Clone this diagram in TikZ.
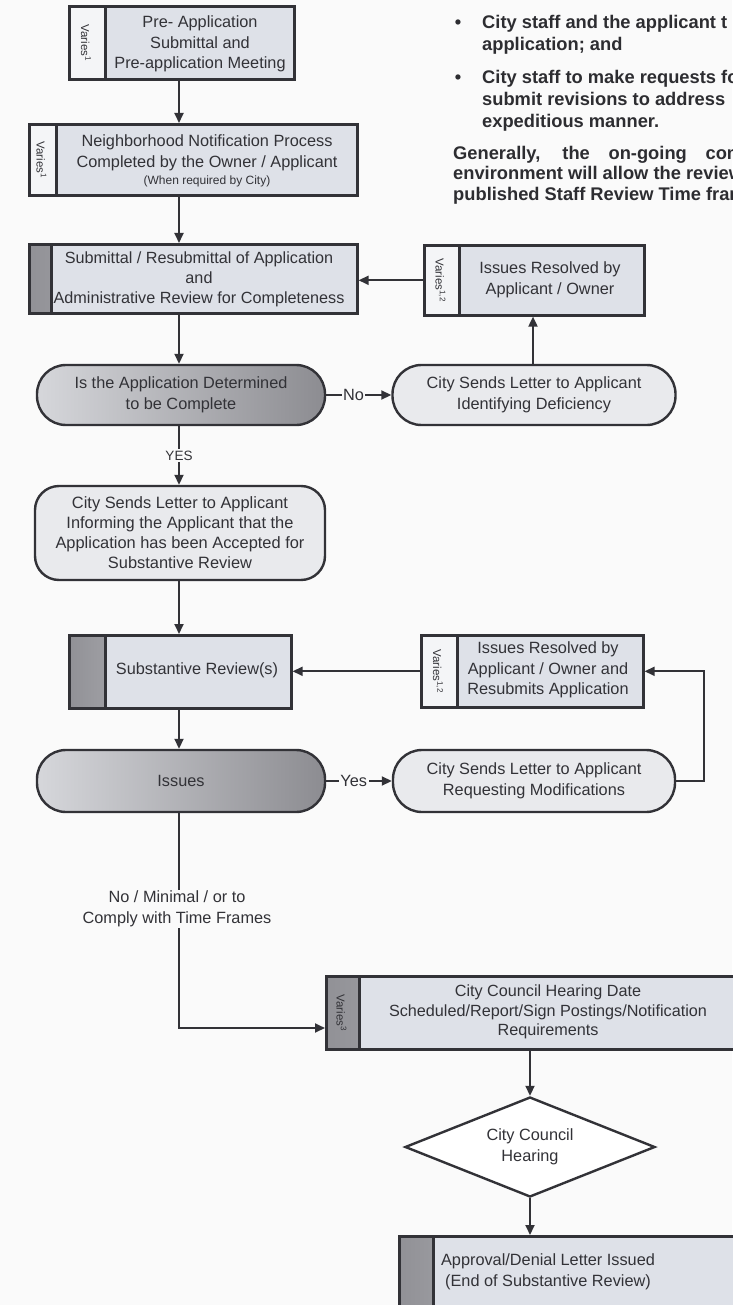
\documentclass[tikz,border=0pt]{standalone}
\usepackage{fontspec}
\setmainfont{Liberation Sans}
\usetikzlibrary{arrows.meta,shapes.geometric,calc}
\definecolor{bg}{RGB}{250,250,250}
\definecolor{ink}{RGB}{50,50,55}
\definecolor{boxfill}{RGB}{222,225,232}
\definecolor{lfill}{RGB}{233,234,237}
\definecolor{dlight}{RGB}{214,215,219}
\definecolor{ddark}{RGB}{140,140,145}
\definecolor{stripdark}{RGB}{145,145,150}
\definecolor{striplight}{RGB}{222,223,228}
\definecolor{stripwhite}{RGB}{244,245,247}
\newcommand\mainfs{\fontsize{16.3}{20.5}\selectfont}
\begin{document}
\begin{tikzpicture}[x=1pt,y=-1pt,
  box/.style={draw=ink, line width=2.6pt, fill=boxfill, rectangle, inner sep=0pt, anchor=north west},
  stripw/.style={path picture={\fill[stripwhite] (path picture bounding box.north west) rectangle ([xshift=#1]path picture bounding box.south west);
      \draw[ink,line width=2.4pt] ([xshift=#1]path picture bounding box.north west) -- ([xshift=#1]path picture bounding box.south west);}},
  stripg/.style={path picture={\shade[left color=stripdark,right color=striplight] (path picture bounding box.north west) rectangle ([xshift=#1]path picture bounding box.south west);
      \draw[ink,line width=2.4pt] ([xshift=#1]path picture bounding box.north west) -- ([xshift=#1]path picture bounding box.south west);}},
  pill/.style={draw=ink, line width=2.4pt, rectangle, rounded corners=29pt, inner sep=0pt, align=center, font=\mainfs, text=ink},
  txt/.style={text=ink, align=center, font=\mainfs, inner sep=0pt},
  vtxt/.style={text=ink, rotate=-90, font=\fontsize{11.5}{12}\selectfont, inner sep=0pt},
  lbl/.style={fill=bg, text=ink, font=\mainfs, inner sep=1.5pt, align=center},
  arr/.style={draw=ink, line width=1.8pt, -{Triangle[length=10pt,width=9pt]}},
  bul/.style={text=ink!90!black, font=\fontsize{18.3}{21.5}\selectfont\bfseries, inner sep=0pt, anchor=base west}
]
\useasboundingbox (0,0) rectangle (732,1305);
\fill[bg] (0,0) rectangle (732,1305);
\coordinate (col) at (179,0);
\coordinate (c2) at (533,0);
\coordinate (c3) at (530,0);
\coordinate (r1) at (704,0);

% top right text
\node[bul, anchor=base] (bu1) at (458,28.5) {•};
\node[bul] (t1) at (482,28.5) {City staff and the applicant t};
\node[bul] (t2) at (482,50.5) {application; and};
\node[bul, anchor=base] (bu2) at (458,83.5) {•};
\node[bul] (t3) at (482,83.5) {City staff to make requests fo};
\node[bul] (t4) at (482,105.5) {submit revisions to address};
\node[bul] (t5) at (482,127.5) {expeditious manner.};
\node[bul] (t6) at (453,159.5) {\makebox[290pt][s]{Generally, the on-going com}};
\node[bul] (t7) at (453,180) {environment will allow the review};
\node[bul] (t8) at (453,201) {published Staff Review Time fram};

% box 1
\node[box, stripw=36pt, minimum width=225pt, minimum height=73pt] (b1) at (68,5) {};
\node[vtxt] (b1v) at ($(b1.west)+(18,0)$) {Varies\textsuperscript{1}};
\node[txt] (b1t) at (200,44) {Pre- Application\\Submittal and\\Pre-application Meeting};

% box 2
\node[box, stripw=27pt, minimum width=328pt, minimum height=71pt] (b2) at (28,123) {};
\node[vtxt] (b2v) at ($(b2.west)+(13.5,0)$) {Varies\textsuperscript{1}};
\node[txt] (b2t) at (207,161) {Neighborhood Notification Process\\Completed by the Owner / Applicant\\[-3pt]{\fontsize{12}{14}\selectfont (When required by City)}};

% box 3
\node[box, stripg=22pt, minimum width=328pt, minimum height=69pt] (b3) at (28,243) {};
\node[txt, font=\fontsize{16.2}{20}\selectfont] (b3t) at (199,279) {Submittal / Resubmittal of Application\\and\\Administrative Review for Completeness};

% issues resolved 1
\node[box, stripw=35pt, minimum width=220pt, minimum height=70pt] (ir1) at (423,244) {};
\node[vtxt] (ir1v) at ($(ir1.west)+(17.5,0)$) {Varies\textsuperscript{1,2}};
\node[txt] (ir1t) at (550,280) {Issues Resolved by\\Applicant / Owner};

% decision 1
\node[pill, left color=dlight, right color=ddark, minimum width=288pt, minimum height=60pt] (d1) at (181,395) {Is the Application Determined\\to be Complete};
\node[pill, fill=lfill, minimum width=283pt, minimum height=60pt] (l1) at (534,395) {City Sends Letter to Applicant\\Identifying Deficiency};

% letter 2
\node[pill, rounded corners=24pt, fill=lfill, minimum width=290pt, minimum height=94pt, font=\fontsize{16.4}{20}\selectfont] (l2) at (180,533) {City Sends Letter to Applicant\\Informing the Applicant that the\\Application has been Accepted for\\Substantive Review};

% substantive review
\node[box, stripg=36pt, minimum width=222pt, minimum height=73pt] (sr) at (68,634) {};
\node[txt] (srt) at (197,670.5) {Substantive Review(s)};

% issues resolved 2
\node[box, stripw=36pt, minimum width=222pt, minimum height=72pt] (ir2) at (420,634) {};
\node[vtxt] (ir2v) at ($(ir2.west)+(18,0)$) {Varies\textsuperscript{1,2}};
\node[txt] (ir2t) at (548,670) {Issues Resolved by\\Applicant / Owner and\\Resubmits Application};

% decision 2
\node[pill, left color=dlight, right color=ddark, minimum width=288pt, minimum height=62pt] (d2) at (181,781) {Issues};
\node[pill, fill=lfill, minimum width=282pt, minimum height=62pt] (l3) at (534,781) {City Sends Letter to Applicant\\Requesting Modifications};

% city council box
\node[box, stripg=33pt, minimum width=415pt, minimum height=73pt] (cc) at (325,975) {};
\node[vtxt] (ccv) at ($(cc.west)+(16.5,0)$) {Varies\textsuperscript{3}};
\node[txt, font=\fontsize{16.2}{19.5}\selectfont] (cct) at (548,1012) {City Council Hearing Date\\Scheduled/Report/Sign Postings/Notification\\Requirements};

% diamond
\node[diamond, draw=ink, line width=2.4pt, fill=white, minimum width=250pt, minimum height=100pt, aspect=2.5, inner sep=0pt, align=center, font=\mainfs, text=ink] (dm) at (530,1147) {City Council\\Hearing};

% approval box
\node[box, stripg=34pt, minimum width=342pt, minimum height=90pt] (ad) at (398,1235) {};
\node[txt] (adt) at (548,1272) {Approval/Denial Letter Issued\\(End of Substantive Review)};

% connectors
\draw[arr] (b1.south -| col) -- (b2.north -| col);
\draw[arr] (b2.south -| col) -- (b3.north -| col);
\draw[arr] (ir1.west) -- (b3.east |- ir1.west);
\draw[arr] (b3.south -| col) -- (d1.north -| col);
\draw[arr] (d1.east) -- (l1.west) node[lbl, pos=0.42] (nolbl) {No};
\draw[arr] (l1.north -| c2) -- (ir1.south -| c2);
\draw[arr] (d1.south -| col) -- (l2.north -| col) node[lbl, midway, font=\fontsize{13.5}{15}\selectfont] (yeslbl) {YES};
\draw[arr] (l2.south -| col) -- (sr.north -| col);
\draw[arr] (ir2.west) -- (sr.east |- ir2.west);
\draw[arr] (sr.south -| col) -- (d2.north -| col);
\draw[arr] (d2.east) -- (l3.west) node[lbl, pos=0.42] (yeslbl2) {Yes};
\draw[arr] (l3.east) -- (l3.east -| r1) -- (ir2.east -| r1) -- (ir2.east);
\coordinate (k1) at (179,1028);
\draw[arr] (d2.south -| col) -- (k1) -- (k1 -| cc.west);
\node[lbl] (nolbl2) at (177,909) {No / Minimal / or to\\Comply with Time Frames};
\draw[arr] (cc.south -| c3) -- (dm.north);
\draw[arr] (dm.south) -- (ad.north -| c3);
\end{tikzpicture}
\end{document}
